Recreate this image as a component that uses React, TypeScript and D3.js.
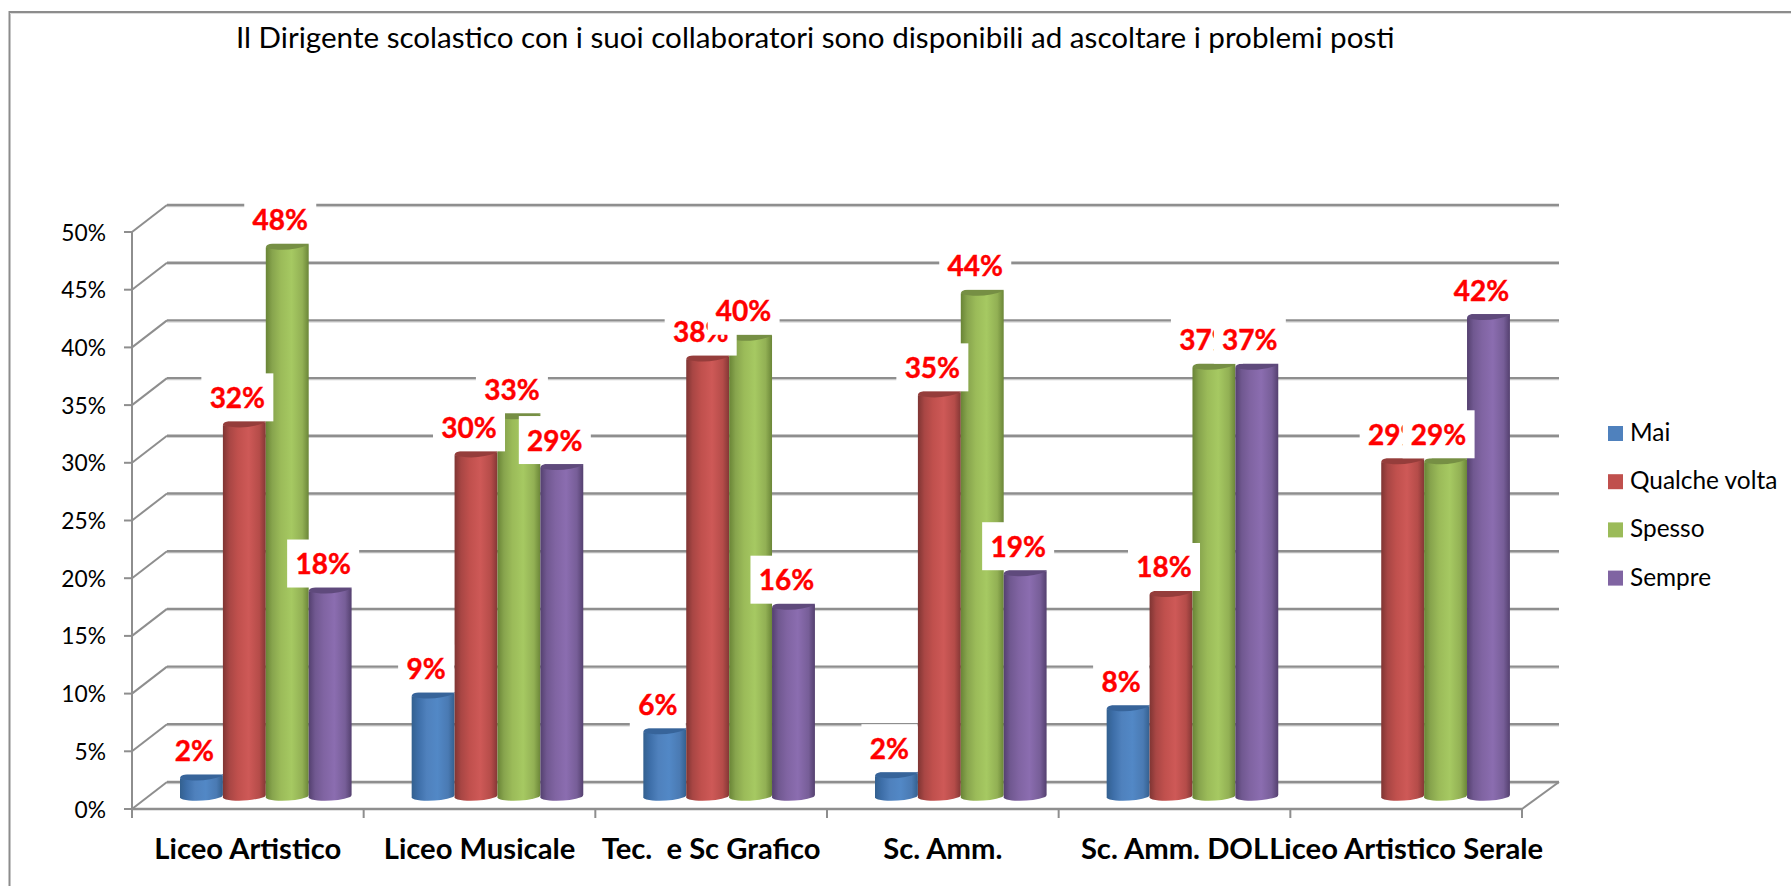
import React from "react";
import * as d3 from "d3";

const title = "Il Dirigente scolastico con i suoi collaboratori sono disponibili ad ascoltare i problemi posti";
const categories = ["Liceo Artistico", "Liceo Musicale", "Tec.  e Sc Grafico", "Sc. Amm.", "Sc. Amm. DOL", "Liceo Artistico Serale"];
const seriesNames = ["Mai", "Qualche volta", "Spesso", "Sempre"];
const mai = [1.9, 9.0, 5.9, 2.1, 7.9, 0];
const qualcheVolta = [32.5, 29.9, 38.2, 35.1, 17.8, 29.3];
const spesso = [47.9, 33.2, 40.0, 43.9, 37.5, 29.3];
const sempre = [18.1, 28.8, 16.7, 19.6, 37.5, 41.8];
const maiLabels = ["2%", "9%", "6%", "2%", "8%", ""];
const qualcheVoltaLabels = ["32%", "30%", "38%", "35%", "18%", "29%"];
const spessoLabels = ["48%", "33%", "40%", "44%", "37%", "29%"];
const sempreLabels = ["18%", "29%", "16%", "19%", "37%", "42%"];
const seriesValues = [mai, qualcheVolta, spesso, sempre];
const seriesLabels = [maiLabels, qualcheVoltaLabels, spessoLabels, sempreLabels];
const yTicks = [0, 5, 10, 15, 20, 25, 30, 35, 40, 45, 50];
const bodyStops = [
  ["#33608f", "#3d6ea8", "#4f81bd", "#5288c6", "#4a7ab3", "#34608f"],
  ["#7f3533", "#a84644", "#c0504d", "#ce5957", "#b54c49", "#843735"],
  ["#698436", "#87a44d", "#9bbb59", "#a6c962", "#92b054", "#6b8638"],
  ["#54406f", "#705890", "#8064a2", "#8b6db0", "#775e98", "#54406f"],
];
const capColors = ["#37649a", "#953d3b", "#768f44", "#5f4a7c"];
const swatchColors = ["#4f81bd", "#c0504d", "#9bbb59", "#8064a2"];

const FONT = "Lato, 'Open Sans', sans-serif";
const GRID = "#8e8e8e";

export default function App() {
  const x0 = d3.scaleBand<string>().domain(categories).range([132, 1522]);
  const xS = d3.scaleBand<string>().domain(seriesNames).range([48, 219.6]);
  const frontY = d3.scaleLinear().domain([0, 50]).range([809, 232]);
  const backY = d3.scaleLinear().domain([0, 50]).range([782, 205]);
  const barY = d3.scaleLinear().domain([0, 50]).range([799.4, 222.4]);
  const w = xS.bandwidth();
  const offsets = [0, 15, 35, 60, 85, 100];

  const barPath = (x: number, v: number) => {
    const t = barY(v);
    const b = barY(0);
    return `M${x},${t + 1} L${x},${b - 2} Q${x},${b - 1} ${x + 3},${b} C${x + w * 0.3},${b + 2.5} ${x + w * 0.7},${b + 1.5} ${x + w - 1.5},${b - 2.5} Q${x + w},${b - 3.5} ${x + w},${b - 5} L${x + w},${t - 2} Z`;
  };
  const capPath = (x: number, v: number) => {
    const t = barY(v);
    return `M${x},${t + 1} C${x},${t - 2} ${x + 4},${t - 3.5} ${x + 9},${t - 3.5} L${x + w},${t - 3.5} L${x + w},${t - 2} C${x + w * 0.7},${t + 3.5} ${x + w * 0.3},${t + 4.5} ${x},${t + 1} Z`;
  };

  return (
    <svg
      width={1791}
      height={886}
      viewBox="0 0 1791 886"
      style={{ position: "fixed", left: 0, top: 0, background: "#fff", fontFamily: FONT }}
    >
      <defs>
        {bodyStops.map((stops, i) => (
          <linearGradient key={i} id={`g${i}`} x1="0" x2="1" y1="0" y2="0">
            {stops.map((c, j) => (
              <stop key={j} offset={`${offsets[j]}%`} stopColor={c} />
            ))}
          </linearGradient>
        ))}
      </defs>

      {/* outer frame */}
      <path d="M1791,12 H9.5 V886" fill="none" stroke="#8c8c8c" strokeWidth={2} />
      <line x1={10} x2={1791} y1={13.5} y2={13.5} stroke="#dcdcdc" strokeWidth={1} />

      <text x={236} y={48} fontSize={29.6} fill="#000">{title}</text>

      {/* walls and gridlines */}
      {yTicks.map((t) => (
        <g key={t}>
          <line x1={167} x2={1559} y1={backY(t) + 1.7} y2={backY(t) + 1.7} stroke="#d2d2d2" strokeWidth={1} />
          <line x1={167} x2={1559} y1={backY(t)} y2={backY(t)} stroke={GRID} strokeWidth={2.4} />
          <line x1={132} x2={167} y1={frontY(t)} y2={backY(t)} stroke={GRID} strokeWidth={2} />
          <line x1={124} x2={132} y1={frontY(t)} y2={frontY(t)} stroke={GRID} strokeWidth={2} />
          <text x={106} y={frontY(t) + 8.5} fontSize={22.8} textAnchor="end" fill="#000">{`${t}%`}</text>
        </g>
      ))}
      <line x1={132} x2={132} y1={frontY(50)} y2={818} stroke={GRID} strokeWidth={2} />
      <line x1={132} x2={1522} y1={809} y2={809} stroke={GRID} strokeWidth={2.4} />
      <line x1={1522} x2={1559} y1={809} y2={782} stroke={GRID} strokeWidth={2} />
      {categories.map((c) => (
        <line key={c} x1={(x0(c) as number) + x0.step()} x2={(x0(c) as number) + x0.step()} y1={809} y2={818} stroke={GRID} strokeWidth={2} />
      ))}

      {/* bars */}
      {categories.map((c, ci) => (
        <g key={c}>
          {seriesNames.map((s, si) => {
            const v = seriesValues[si][ci];
            if (!v) return null;
            const x = (x0(c) as number) + (xS(s) as number);
            return (
              <g key={s}>
                <path d={barPath(x, v)} fill={`url(#g${si})`} />
                <path d={capPath(x, v)} fill={capColors[si]} />
              </g>
            );
          })}
        </g>
      ))}

      {/* data labels, painted series by series */}
      {seriesNames.map((s, si) => (
        <g key={s}>
          {categories.map((c, ci) => {
            const v = seriesValues[si][ci];
            const label = seriesLabels[si][ci];
            if (!v || !label) return null;
            const cx = (x0(c) as number) + (xS(s) as number) + w / 2 - 7;
            const cy = barY(v) - 27;
            const rw = 24 + 16 * label.length;
            return (
              <g key={c}>
                <rect x={cx - rw / 2} y={cy - 24} width={rw} height={48} fill="#fff" />
                <text x={cx} y={cy + 10.5} fontSize={28} fontWeight={700} textAnchor="middle" fill="#ff0000" stroke="#ff0000" strokeWidth={0.4}>{label}</text>
              </g>
            );
          })}
        </g>
      ))}

      {/* category labels */}
      {categories.map((c) => (
        <text
          key={c}
          x={(x0(c) as number) + x0.step() / 2}
          y={859}
          fontSize={29.2}
          fontWeight={700}
          textAnchor="middle"
          fill="#000"
          style={{ whiteSpace: "pre" }}
        >
          {c}
        </text>
      ))}

      {/* legend */}
      {seriesNames.map((s, i) => (
        <g key={s}>
          <rect x={1608} y={426 + i * 48.2} width={15} height={15} fill={swatchColors[i]} />
          <text x={1630} y={441 + i * 48.2} fontSize={24.4} fill="#000">{s}</text>
        </g>
      ))}
    </svg>
  );
}
